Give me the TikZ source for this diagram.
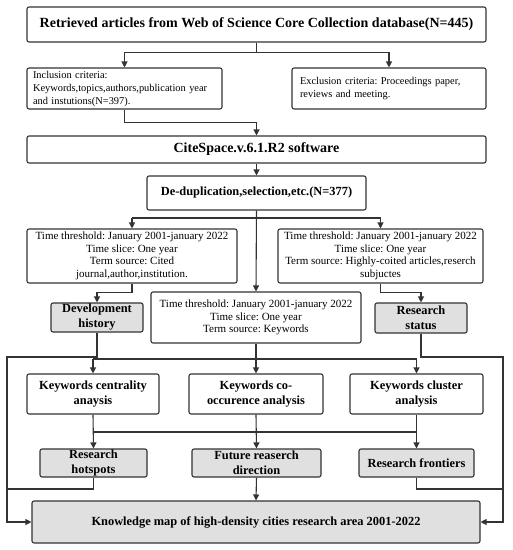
\documentclass[tikz,border=0pt]{standalone}
\usepackage{fontspec}
\setmainfont{Liberation Serif}
\usetikzlibrary{arrows.meta}
\frenchspacing

\definecolor{lncol}{HTML}{333333}
\definecolor{boxgray}{HTML}{E0E0E0}

\tikzset{
  box/.style={draw=lncol, line width=1.1pt, rounded corners=2pt, inner sep=0pt, align=center},
  graybox/.style={box, fill=boxgray},
  arr/.style={draw=lncol, line width=1.1pt, -{Triangle[length=6pt,width=6pt]}},
  ln/.style={draw=lncol, line width=1.1pt},
  big/.style={font=\fontsize{14}{16}\selectfont\bfseries},
  mid/.style={font=\fontsize{12.4}{15}\selectfont\bfseries},
  sml/.style={font=\fontsize{11}{12.6}\selectfont},
  crit/.style={font=\fontsize{10.4}{13}\selectfont, align=left}
}

\begin{document}
\begin{tikzpicture}[x=1pt,y=-1pt]
	\useasboundingbox (0,0) rectangle (513,550);
	
	% top part
	\node[box,big,minimum width=459pt,minimum height=35pt] (ret) at (256.5,24.5) {Retrieved articles from Web of Science Core Collection database(N=445)};
	\node[box,crit,inner xsep=6pt,text width=183pt,minimum height=41pt] (inc) at (124.5,88.5) {Inclusion criteria:\\Keywords,topics,authors,publication year\\and instutions(N=397).};
	\node[box,crit,inner xsep=8pt,text width=178pt,minimum height=41pt] (exc) at (389,88.5) {Exclusion criteria: Proceedings paper,\\reviews and meeting.};
	\node[box,big,minimum width=459pt,minimum height=27pt] (cite) at (256.5,149.5) {CiteSpace.v.6.1.R2 software};
	\node[box,mid,minimum width=219pt,minimum height=34pt] (dedup) at (256.5,193) {De-duplication,selection,etc.(N=377)};
	
	% time slicing boxes
	\node[box,sml,minimum width=210pt,minimum height=54pt] (tl) at (132,256) {Time threshold: January 2001-january 2022\\Time slice: One year\\Term source: Cited\\journal,author,institution.};
	\node[box,sml,minimum width=205pt,minimum height=54pt] (tr) at (380.5,256) {Time threshold: January 2001-january 2022\\Time slice: One year\\Term source: Highly-coited articles,reserch\\subjuctes};
	\node[box,sml,minimum width=210pt,minimum height=51pt] (tc) at (256,317.5) {Time threshold: January 2001-january 2022\\Time slice: One year\\Term source: Keywords};
	\node[graybox,mid,minimum width=92pt,minimum height=29pt] (dev) at (97,317.5) {Development\\history};
	\node[graybox,mid,minimum width=92pt,minimum height=30pt] (status) at (421,318) {Research\\status};
	
	% analysis
	\node[box,mid,minimum width=132pt,minimum height=40pt] (kc) at (93,394) {Keywords centrality\\anaysis};
	\node[box,mid,minimum width=134pt,minimum height=40pt] (kco) at (256,394) {Keywords co-\\occurence analysis};
	\node[box,mid,minimum width=133pt,minimum height=40pt] (kcl) at (416.5,394) {Keywords cluster\\analysis};
	
	\node[graybox,mid,minimum width=107pt,minimum height=28pt] (hot) at (93.5,463) {Research\\hotspots};
	\node[graybox,mid,minimum width=129pt,minimum height=28pt] (fut) at (256.5,463) {Future reaserch\\direction};
	\node[graybox,mid,minimum width=115pt,minimum height=28pt] (front) at (416.5,463) {Research frontiers};
	
	\node[graybox,mid,minimum width=448pt,minimum height=42pt] (know) at (256,522) {Knowledge map of high-density cities research area 2001-2022};
	
	\coordinate (lft) at (7,357);
	\coordinate (rgt) at (503,357);
	\coordinate (lfb) at (7,489);
	\coordinate (rgb) at (503,489);
	\coordinate (m1) at (256,218);
	\coordinate (m2) at (256,359);
	\coordinate (m3) at (256,432);
	
	% connectors
	\draw[arr] (ret.south) -- ++(0,10) -| (inc.north);
	\draw[arr] (ret.south) -- ++(0,10) -| (exc.north);
	\draw[arr] (inc.south) -- ++(0,13) -| (cite.north);
	\draw[arr] (cite.south) -- (dedup.north);
	\draw[arr] (dedup.south) -- (tc.north);
	\draw[arr] (tl.north |- m1) -- (tl.north);
	\draw[arr] (tr.north |- m1) -- (tr.north);
	\draw[ln] (tl.north |- m1) -- (tr.north |- m1);
	\draw[arr] (tl.south) -- ++(0,9) -| (dev.north);
	\draw[arr] (tr.south) -- ++(0,9) -| (status.north);
	
	\draw[arr] (tc.south) -- (kco.north);
	\draw[arr] (kc.north |- m2) -- (kc.north);
	\draw[arr] (kcl.north |- m2) -- (kcl.north);
	\draw[ln] (kc.north |- m2) -- (kcl.north |- m2);
	
	\draw[arr] (kc.south) -- (hot.south |- hot.north);
	\draw[arr] (kco.south) -- (fut.north);
	\draw[arr] (kcl.south) -- (front.north);
	\draw[ln] (kc.south |- m3) -- (kcl.south |- m3);
	\draw[arr] (fut.south) -- (know.north);
	
	\draw[arr] (dev.south) |- (lft) |- (know.west);
	\draw[arr] (status.south) |- (rgt) |- (know.east);
	\draw[ln] (hot.south) |- (lfb);
	\draw[ln] (front.south) |- (rgb);
\end{tikzpicture}
\end{document}
